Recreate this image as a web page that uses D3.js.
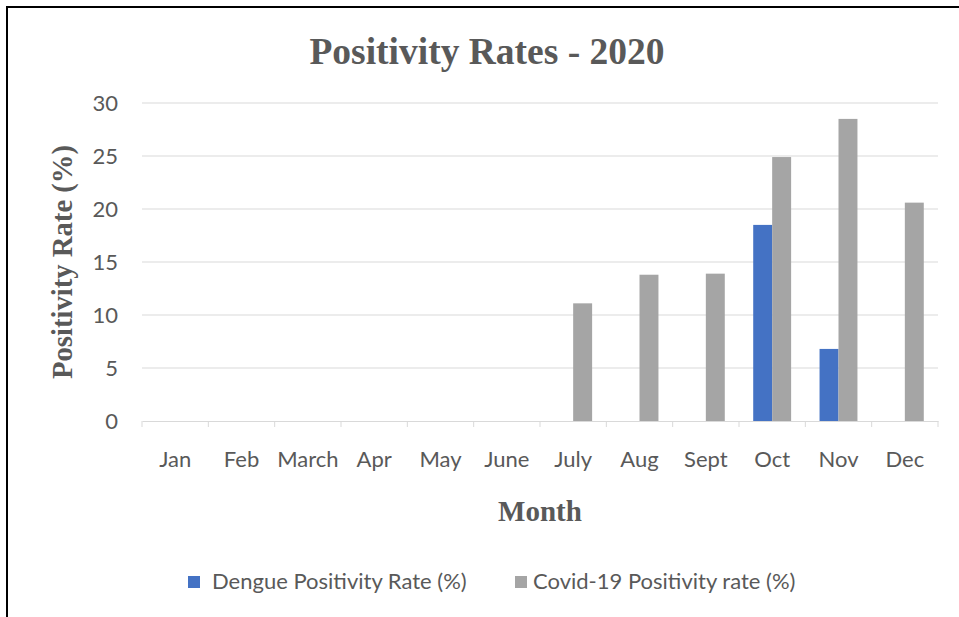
<!DOCTYPE html>
<html>
<head>
<meta charset="utf-8">
<script src="https://cdn.jsdelivr.net/npm/d3@7"></script>
<style>
  body { margin: 0; background: #fff; }
</style>
</head>
<body>
<div id="chart"></div>
<script>
const months = ["Jan", "Feb", "March", "Apr", "May", "June", "July", "Aug", "Sept", "Oct", "Nov", "Dec"];
const dengueRates = [0, 0, 0, 0, 0, 0, 0, 0, 0, 18.5, 6.8, 0];
const covidRates = [0, 0, 0, 0, 0, 0, 11.1, 13.8, 13.9, 24.9, 28.5, 20.6];
const yTicks = [0, 5, 10, 15, 20, 25, 30];
const seriesNames = ["Dengue Positivity Rate (%)", "Covid-19 Positivity rate (%)"];
const seriesColors = ["#4472C4", "#A5A5A5"];

const canvasWidth = 959;
const canvasHeight = 617;
const margin = { top: 103, right: 21, bottom: 196, left: 142 };
const width = canvasWidth - margin.left - margin.right;
const height = canvasHeight - margin.top - margin.bottom;
const textColor = "#595959";
const serif = "'Liberation Serif', 'Times New Roman', serif";
const sans = "Lato, 'Open Sans', sans-serif";

const data = months.map((m, i) => ({ month: m, values: [dengueRates[i], covidRates[i]] }));

const svg = d3.select("#chart")
    .append("svg")
    .attr("width", canvasWidth)
    .attr("height", canvasHeight);

// outer frame (left and top edges visible)
svg.append("path")
    .attr("d", `M7,${canvasHeight + 5} V7 H${canvasWidth + 5}`)
    .attr("fill", "none")
    .attr("stroke", "#000")
    .attr("stroke-width", 2);

const canvas = svg.append("g")
    .attr("transform", `translate(${margin.left},${margin.top})`);

const xScale = d3.scaleBand().domain(months).range([0, width]);
const xInner = d3.scaleBand().domain([0, 1]).range([0, xScale.bandwidth()]).paddingInner(0).paddingOuter(0.75);
const yScale = d3.scaleLinear().domain([0, 30]).range([height, 0]);

// gridlines
canvas.append("g")
    .selectAll("line")
    .data(yTicks.filter(d => d > 0))
    .join("line")
    .attr("x1", 0)
    .attr("x2", width)
    .attr("y1", d => yScale(d))
    .attr("y2", d => yScale(d))
    .attr("stroke", "#d9d9d9")
    .attr("stroke-width", 1);

// y axis labels
const yAxis = d3.axisLeft(yScale).tickValues(yTicks).tickSize(0).tickPadding(24);
canvas.append("g")
    .call(yAxis)
    .call(g => g.select(".domain").remove())
    .selectAll("text")
    .attr("fill", textColor)
    .attr("font-family", sans)
    .attr("font-size", 22);

// bars
const groups = canvas.selectAll(".month")
    .data(data)
    .join("g")
    .attr("class", "month")
    .attr("transform", d => `translate(${xScale(d.month)},0)`);

groups.selectAll("rect")
    .data(d => d.values.map((v, i) => ({ v, i })))
    .join("rect")
    .filter(d => d.v > 0)
    .attr("x", d => xInner(d.i))
    .attr("width", xInner.bandwidth())
    .attr("y", d => yScale(d.v))
    .attr("height", d => yScale(0) - yScale(d.v))
    .attr("fill", d => seriesColors[d.i]);

// x axis
const xAxis = d3.axisBottom(xScale).tickSizeOuter(0).tickSizeInner(0).tickPadding(30);
const xg = canvas.append("g")
    .attr("transform", `translate(0,${height})`)
    .call(xAxis);
xg.select(".domain").attr("stroke", "#d9d9d9");
xg.selectAll("text")
    .attr("fill", textColor)
    .attr("font-family", sans)
    .attr("font-size", 22);
// category boundary ticks
xg.append("g")
    .selectAll("line")
    .data(d3.range(months.length + 1))
    .join("line")
    .attr("x1", i => i * xScale.step())
    .attr("x2", i => i * xScale.step())
    .attr("y1", 0)
    .attr("y2", 6)
    .attr("stroke", "#d9d9d9");

// titles
svg.append("text")
    .attr("x", 487)
    .attr("y", 64)
    .attr("text-anchor", "middle")
    .attr("font-family", serif)
    .attr("font-weight", "bold")
    .attr("font-size", 37.5)
    .attr("fill", textColor)
    .text("Positivity Rates - 2020");

svg.append("text")
    .attr("x", 540)
    .attr("y", 521)
    .attr("text-anchor", "middle")
    .attr("font-family", serif)
    .attr("font-weight", "bold")
    .attr("font-size", 29)
    .attr("fill", textColor)
    .text("Month");

svg.append("text")
    .attr("transform", `translate(72,262) rotate(-90)`)
    .attr("text-anchor", "middle")
    .attr("font-family", serif)
    .attr("font-weight", "bold")
    .attr("font-size", 28.7)
    .attr("fill", textColor)
    .text("Positivity Rate (%)");

// legend
const legendX = [188, 515];
const legendTextGap = [24, 18];
const legend = svg.selectAll(".legend")
    .data(seriesNames)
    .join("g")
    .attr("class", "legend")
    .attr("transform", (d, i) => `translate(${legendX[i]},576)`);

legend.append("rect")
    .attr("width", 12)
    .attr("height", 12)
    .attr("fill", (d, i) => seriesColors[i]);

legend.append("text")
    .attr("x", (d, i) => legendTextGap[i])
    .attr("y", 13)
    .attr("font-family", sans)
    .attr("font-size", 22)
    .attr("fill", textColor)
    .text(d => d);
</script>
</body>
</html>
